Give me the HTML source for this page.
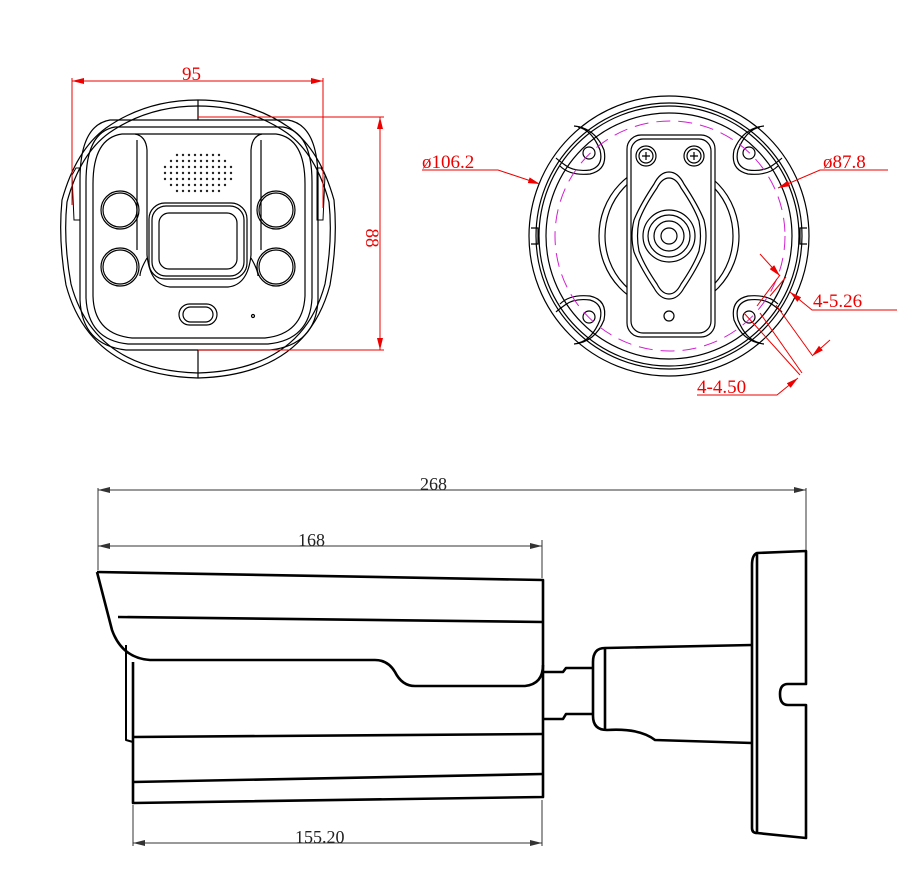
<!DOCTYPE html>
<html><head><meta charset="utf-8"><style>
html,body{margin:0;padding:0;background:#fff;}
svg{display:block;}
text{font-family:"Liberation Serif",serif;fill:#e00;}
</style></head><body>
<svg width="900" height="887" viewBox="0 0 900 887" xmlns="http://www.w3.org/2000/svg">
<defs>
<marker id="a" markerWidth="12" markerHeight="6" refX="12" refY="3" orient="auto" markerUnits="userSpaceOnUse"><path d="M0,0 L12,3 L0,6z" fill="#e00"/></marker>
<marker id="b" markerWidth="12" markerHeight="6" refX="12" refY="3" orient="auto" markerUnits="userSpaceOnUse"><path d="M0,0 L12,3 L0,6z" fill="#333"/></marker>
</defs>

<!-- FRONT VIEW -->
<g fill="none" stroke="#000" stroke-width="1.2">
<path d="M62,200 Q58,240 66,285 Q90,375 198,378 Q306,375 330,285 Q338,240 334,200 Q320,150 290,128 Q250,100 198,100 Q146,100 106,128 Q76,150 62,200z"/>
<path d="M67,202 Q63,240 71,284 Q94,370 198,373 Q302,370 325,284 Q333,240 329,202 Q316,154 287,133 Q248,106 198,106 Q148,106 109,133 Q80,154 67,202z"/>
<path d="M110,120 L288,120 Q318,125 318,180 L318,300 Q316,345 270,350 L126,350 Q82,345 80,300 L80,180 Q80,125 110,120z"/>
<path d="M115,127 L283,127 Q312,132 312,182 L312,298 Q310,340 268,344 L128,344 Q88,340 86,298 L86,182 Q86,132 115,127z"/>
<path d="M122,134 L276,134 Q305,138 305,184 L305,296 Q303,334 265,338 L132,338 Q94,334 93,296 L93,184 Q93,138 122,134z"/>
<path d="M135,134 Q146,136 147,150 L147,255 Q150,285 170,287 L228,287 Q248,285 251,255 L251,150 Q252,136 262,134"/>
<path d="M137,140 L137,250 M261,140 L261,250"/>
<path d="M147,258 Q140,270 140,276 M251,258 Q258,270 258,276"/>
<rect x="149" y="203" width="98" height="76" rx="16"/>
<rect x="152" y="206" width="92" height="70" rx="14"/>
<rect x="159" y="213" width="78" height="56" rx="10"/>
<circle cx="120" cy="210" r="19"/><circle cx="120" cy="210" r="17"/>
<circle cx="276" cy="210" r="19"/><circle cx="276" cy="210" r="17"/>
<circle cx="120" cy="267" r="19"/><circle cx="120" cy="267" r="17"/>
<circle cx="276" cy="267" r="19"/><circle cx="276" cy="267" r="17"/>
<rect x="179" y="304" width="38" height="21" rx="10.5"/>
<rect x="183" y="307" width="30" height="15" rx="7.5"/>
<circle cx="253" cy="316" r="1.5"/>
<line x1="198" y1="100" x2="198" y2="120"/><line x1="198" y1="350" x2="198" y2="378"/>
<path d="M72,175 L76,168 L80,168 L80,220 L74,220z M325,175 L321,168 L317,168 L317,220 L323,220z" stroke-width="1"/>
</g>
<g fill="#222">
<circle cx="177" cy="155" r="1.2"/><circle cx="183" cy="155" r="1.2"/><circle cx="189" cy="155" r="1.2"/><circle cx="195" cy="155" r="1.2"/><circle cx="201" cy="155" r="1.2"/><circle cx="207" cy="155" r="1.2"/><circle cx="213" cy="155" r="1.2"/><circle cx="219" cy="155" r="1.2"/>
<circle cx="171" cy="161" r="1.2"/><circle cx="177" cy="161" r="1.2"/><circle cx="183" cy="161" r="1.2"/><circle cx="189" cy="161" r="1.2"/><circle cx="195" cy="161" r="1.2"/><circle cx="201" cy="161" r="1.2"/><circle cx="207" cy="161" r="1.2"/><circle cx="213" cy="161" r="1.2"/><circle cx="219" cy="161" r="1.2"/><circle cx="225" cy="161" r="1.2"/>
<circle cx="165" cy="167" r="1.2"/><circle cx="171" cy="167" r="1.2"/><circle cx="177" cy="167" r="1.2"/><circle cx="183" cy="167" r="1.2"/><circle cx="189" cy="167" r="1.2"/><circle cx="195" cy="167" r="1.2"/><circle cx="201" cy="167" r="1.2"/><circle cx="207" cy="167" r="1.2"/><circle cx="213" cy="167" r="1.2"/><circle cx="219" cy="167" r="1.2"/><circle cx="225" cy="167" r="1.2"/><circle cx="231" cy="167" r="1.2"/>
<circle cx="165" cy="173" r="1.2"/><circle cx="171" cy="173" r="1.2"/><circle cx="177" cy="173" r="1.2"/><circle cx="183" cy="173" r="1.2"/><circle cx="189" cy="173" r="1.2"/><circle cx="195" cy="173" r="1.2"/><circle cx="201" cy="173" r="1.2"/><circle cx="207" cy="173" r="1.2"/><circle cx="213" cy="173" r="1.2"/><circle cx="219" cy="173" r="1.2"/><circle cx="225" cy="173" r="1.2"/><circle cx="231" cy="173" r="1.2"/>
<circle cx="165" cy="179" r="1.2"/><circle cx="171" cy="179" r="1.2"/><circle cx="177" cy="179" r="1.2"/><circle cx="183" cy="179" r="1.2"/><circle cx="189" cy="179" r="1.2"/><circle cx="195" cy="179" r="1.2"/><circle cx="201" cy="179" r="1.2"/><circle cx="207" cy="179" r="1.2"/><circle cx="213" cy="179" r="1.2"/><circle cx="219" cy="179" r="1.2"/><circle cx="225" cy="179" r="1.2"/><circle cx="231" cy="179" r="1.2"/>
<circle cx="171" cy="185" r="1.2"/><circle cx="177" cy="185" r="1.2"/><circle cx="183" cy="185" r="1.2"/><circle cx="189" cy="185" r="1.2"/><circle cx="195" cy="185" r="1.2"/><circle cx="201" cy="185" r="1.2"/><circle cx="207" cy="185" r="1.2"/><circle cx="213" cy="185" r="1.2"/><circle cx="219" cy="185" r="1.2"/><circle cx="225" cy="185" r="1.2"/>
<circle cx="177" cy="191" r="1.2"/><circle cx="183" cy="191" r="1.2"/><circle cx="189" cy="191" r="1.2"/><circle cx="195" cy="191" r="1.2"/><circle cx="201" cy="191" r="1.2"/><circle cx="207" cy="191" r="1.2"/><circle cx="213" cy="191" r="1.2"/><circle cx="219" cy="191" r="1.2"/>
</g>
<!-- front dims -->
<g stroke="#e00" stroke-width="1" fill="none">
<line x1="72" y1="78" x2="72" y2="205"/><line x1="323" y1="78" x2="323" y2="208"/>
<line x1="197" y1="81" x2="72" y2="81" marker-end="url(#a)"/><line x1="197" y1="81" x2="323" y2="81" marker-end="url(#a)"/>
<line x1="198" y1="117" x2="384" y2="117"/><line x1="198" y1="350" x2="384" y2="350"/>
<line x1="380" y1="233" x2="380" y2="117" marker-end="url(#a)"/><line x1="380" y1="233" x2="380" y2="350" marker-end="url(#a)"/>
</g>
<text x="182" y="80" font-size="19">95</text>
<text transform="translate(366,238) rotate(90)" font-size="19" text-anchor="middle">88</text>

<!-- BACK VIEW -->
<g fill="none" stroke="#000" stroke-width="1.2">
<circle cx="669" cy="236" r="140"/>
<circle cx="669" cy="236" r="133"/>
<circle cx="669" cy="236" r="130"/>
<circle cx="669" cy="236" r="123"/>
<ellipse cx="669" cy="236" rx="70" ry="73"/>
<ellipse cx="669" cy="236" rx="64" ry="68"/>
<rect x="627" y="135" width="88" height="202" rx="14" fill="#fff"/>
<rect x="631" y="139" width="80" height="194" rx="12"/>
<path d="M669,172 Q660,172 654,184 Q640,205 634,220 Q630,236 634,252 Q640,267 654,288 Q660,299 669,299 Q678,299 684,288 Q698,267 704,252 Q708,236 704,220 Q698,205 684,184 Q678,172 669,172z"/>
<path d="M669,178 Q662,178 657,188 Q644,207 639,221 Q636,236 639,251 Q644,265 657,284 Q662,294 669,294 Q676,294 681,284 Q694,265 699,251 Q702,236 699,221 Q694,207 681,188 Q676,178 669,178z"/>
<circle cx="669" cy="236" r="26"/><circle cx="669" cy="236" r="21"/><circle cx="669" cy="236" r="15"/><circle cx="669" cy="236" r="8"/>
<circle cx="646" cy="156" r="10"/><circle cx="646" cy="156" r="7"/>
<circle cx="694" cy="156" r="10"/><circle cx="694" cy="156" r="7"/>
<path d="M642,156h8M646,152v8M690,156h8M694,152v8"/>
<circle cx="669" cy="316" r="5"/>
<g id="hole">
<circle cx="589" cy="153" r="6"/>
<path d="M578,127 Q592,130 600,150 Q604,166 590,170 Q574,172 565,165 Q558,160 556,158"/>
<path d="M574,126 Q595,128 604,150 Q608,170 590,174 Q570,176 560,166"/>
</g>
<use href="#hole" transform="translate(1338,0) scale(-1,1)"/>
<use href="#hole" transform="translate(0,470) scale(1,-1)"/>
<use href="#hole" transform="translate(1338,470) scale(-1,-1)"/>
<path d="M531,228h7v16h-7M807,228h-7v16h7"/>
</g>
<circle cx="670" cy="236" r="115" fill="none" stroke="#d020d0" stroke-width="1" stroke-dasharray="14,8"/>
<!-- back dims -->
<g stroke="#e00" stroke-width="1" fill="none">
<polyline points="422,170 498,170 540,184" marker-end="url(#a)"/>
<polyline points="888,170 820,170 778,188" marker-end="url(#a)"/>
<polyline points="897,310 812,310 790,292" marker-end="url(#a)"/>
<polyline points="697,395 777,395 798,378" marker-end="url(#a)"/>
<line x1="760" y1="313" x2="802" y2="373"/>
<line x1="744" y1="313" x2="800" y2="375"/>
<line x1="776" y1="305" x2="812" y2="355"/>
<line x1="757" y1="306" x2="780" y2="275"/>
<line x1="770" y1="296" x2="786" y2="277"/>
<line x1="760" y1="254" x2="780" y2="276" marker-end="url(#a)"/>
<line x1="830" y1="340" x2="812" y2="356" marker-end="url(#a)"/>
</g>
<text x="422" y="168" font-size="19">ø106.2</text>
<text x="823" y="168" font-size="19">ø87.8</text>
<text x="813" y="307" font-size="19">4-5.26</text>
<text x="697" y="393" font-size="19">4-4.50</text>

<!-- SIDE VIEW -->
<g fill="none" stroke="#000" stroke-width="2.6" stroke-linejoin="round">
<path d="M97,572 L543,580 L543,797 L133,803 L133,662"/>
<path d="M97,572 L112,630 Q122,658 150,660 L375,660 Q388,660 395,672 Q402,686 415,686 L525,686 Q543,684 543,665"/>
<path d="M118,617 L543,622"/>
<path d="M133,737 L543,734"/>
<path d="M133,782 L543,774"/>
<path d="M126,645 L126,740 L133,742" stroke-width="2"/>
<path d="M543,672 L563,672 L566,668 L593,668"/>
<path d="M543,719 L563,719 L566,714 L593,714"/>
<path d="M605,648 Q593,648 593,662 L593,716 Q593,730 607,730 Q640,728 655,740 L752,743"/>
<path d="M605,648 L752,645"/>
<path d="M605,648 L605,730"/>
<path d="M757,553 L806,551 L806,684 L788,684 Q780,684 780,694 Q780,705 788,705 L806,705 L806,838 L757,833 Z"/>
<path d="M757,553 Q752,555 752,565 L752,828 Q752,833 757,833"/>
</g>
<!-- side dims -->
<g stroke="#333" stroke-width="1" fill="none">
<line x1="98" y1="488" x2="98" y2="570"/><line x1="806" y1="488" x2="806" y2="550"/>
<line x1="450" y1="490" x2="98" y2="490" marker-end="url(#b)"/><line x1="450" y1="490" x2="806" y2="490" marker-end="url(#b)"/>
<line x1="320" y1="546" x2="98" y2="546" marker-end="url(#b)"/><line x1="320" y1="546" x2="542" y2="546" marker-end="url(#b)"/>
<line x1="542" y1="540" x2="542" y2="578"/>
<line x1="133" y1="805" x2="133" y2="846"/><line x1="542" y1="800" x2="542" y2="846"/>
<line x1="330" y1="843" x2="133" y2="843" marker-end="url(#b)"/><line x1="330" y1="843" x2="542" y2="843" marker-end="url(#b)"/>
</g>
<text x="420" y="490" font-size="18" style="fill:#222">268</text>
<text x="298" y="546" font-size="18" style="fill:#222">168</text>
<text x="295" y="843" font-size="18" style="fill:#222">155.20</text>
</svg>
</body></html>
